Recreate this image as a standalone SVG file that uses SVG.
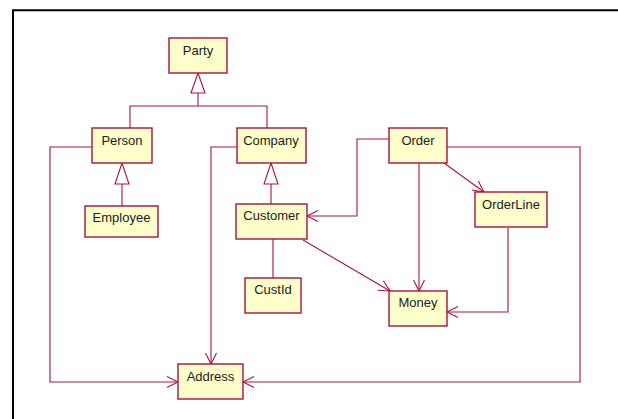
<svg xmlns="http://www.w3.org/2000/svg" width="618" height="419" viewBox="0 0 618 419">
<style>
.box{fill:#FFFFCC;stroke:#A8103F;stroke-width:1.4}
.lbl{font-family:"Liberation Sans",Arial,sans-serif;font-size:13px;fill:#1a1a1a;text-anchor:middle}
.c{fill:none;stroke:#A8124A;stroke-width:1.1}
.gen{fill:#ffffff;stroke:#A8124A;stroke-width:1.1}
</style>
<defs>
<marker id="open" markerUnits="userSpaceOnUse" markerWidth="14" markerHeight="14" viewBox="0 0 14 14" refX="12" refY="7" orient="auto">
<path d="M1,1.5 L12,7 L1,12.5" fill="none" stroke="#A8124A" stroke-width="1.1"/>
</marker>
</defs>
<rect width="618" height="419" fill="#ffffff"/>
<path d="M13,419 V10.3 H618" fill="none" stroke="#000000" stroke-width="2"/>
<g id="connectors">
<polyline class="c" points="198,93 198,106"/>
<polyline class="c" points="130,128 130,106 267,106 267,128"/>
<polygon class="gen" points="198,73 191,93 205,93"/>
<polyline class="c" points="122,184 122,206"/>
<polygon class="gen" points="122,163 115,184 129,184"/>
<polyline class="c" points="271,184 271,204"/>
<polygon class="gen" points="271,163 264,184 278,184"/>
<polyline class="c" points="273,239 273,278"/>
<polyline class="c" points="92,147 50,147 50,382 178,382" marker-end="url(#open)"/>
<polyline class="c" points="237,147 211,147 211,364" marker-end="url(#open)"/>
<polyline class="c" points="447,147 580,147 580,382 243,382" marker-end="url(#open)"/>
<polyline class="c" points="389,139 357,139 357,216 307,216" marker-end="url(#open)"/>
<polyline class="c" points="419,163 419,291" marker-end="url(#open)"/>
<polyline class="c" points="444,163 484,192" marker-end="url(#open)"/>
<polyline class="c" points="508,228 508,312 447,312" marker-end="url(#open)"/>
<polyline class="c" points="303,240 390,291" marker-end="url(#open)"/>
</g>
<g id="Party"><rect class="box" x="169" y="38" width="58" height="35"/><text class="lbl" x="198" y="55">Party</text></g>
<g id="Person"><rect class="box" x="92" y="128" width="60" height="35"/><text class="lbl" x="122" y="145">Person</text></g>
<g id="Company"><rect class="box" x="237" y="128" width="69" height="35"/><text class="lbl" x="271" y="145">Company</text></g>
<g id="Order"><rect class="box" x="389" y="128" width="58" height="35"/><text class="lbl" x="418" y="145">Order</text></g>
<g id="Employee"><rect class="box" x="85" y="206" width="73" height="31"/><text class="lbl" x="121.5" y="222">Employee</text></g>
<g id="Customer"><rect class="box" x="236" y="204" width="71" height="35"/><text class="lbl" x="271.5" y="220">Customer</text></g>
<g id="OrderLine"><rect class="box" x="475" y="192" width="72" height="35"/><text class="lbl" x="511" y="209">OrderLine</text></g>
<g id="CustId"><rect class="box" x="245" y="278" width="56" height="35"/><text class="lbl" x="273" y="294">CustId</text></g>
<g id="Money"><rect class="box" x="389" y="291" width="58" height="35"/><text class="lbl" x="418" y="307">Money</text></g>
<g id="Address"><rect class="box" x="178" y="364" width="65" height="35"/><text class="lbl" x="210.5" y="381">Address</text></g>
</svg>
